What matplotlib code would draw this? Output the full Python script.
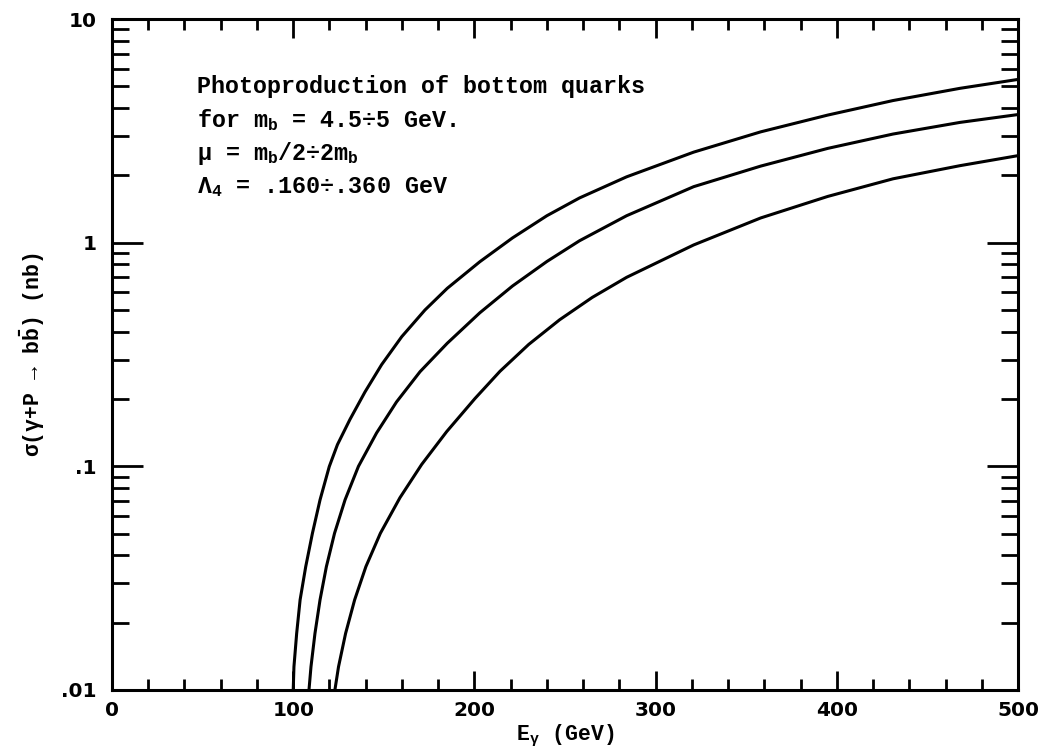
import matplotlib.pyplot as plt
from matplotlib.ticker import FixedLocator, NullFormatter

# curves: photon energy (GeV) vs cross section (nb)
upper_E = [100, 100.4, 101.9, 103.8, 106.9, 110.6, 114.8, 119.9, 124.4, 131.3, 139.6,
           148.8, 159.9, 172.7, 185, 203, 221, 240, 258, 284, 321, 358, 395, 431,
           468, 500]
upper_sigma = [0.01, 0.0127, 0.0179, 0.0253, 0.0356, 0.0502, 0.0708, 0.0998, 0.125,
               0.162, 0.215, 0.285, 0.38, 0.50, 0.625, 0.822, 1.05, 1.32, 1.585, 1.97,
               2.54, 3.13, 3.72, 4.32, 4.90, 5.37]

middle_E = [108.7, 109.8, 112.0, 114.8, 118.3, 122.8, 128.6, 136, 146, 157, 170, 185,
            203, 221, 240, 258, 284, 321, 358, 395, 431, 468, 500]
middle_sigma = [0.01, 0.0127, 0.0179, 0.0253, 0.0356, 0.0502, 0.0708, 0.1, 0.141,
                0.194, 0.265, 0.355, 0.486, 0.640, 0.824, 1.02, 1.32, 1.78, 2.20,
                2.64, 3.06, 3.45, 3.74]

lower_E = [123, 125, 128.9, 133.9, 140.1, 148.1, 158.9, 170.9, 184.7, 200.3, 214.1,
           230, 247, 265, 284, 321, 358, 395, 431, 468, 500]
lower_sigma = [0.01, 0.0127, 0.0179, 0.0253, 0.0356, 0.0502, 0.0724, 0.102, 0.143,
               0.201, 0.266, 0.351, 0.452, 0.569, 0.70, 0.977, 1.29, 1.61, 1.93,
               2.21, 2.45]

notes = ["Photoproduction of bottom quarks",
         "for $m_b$ = 4.5\u00f75 GeV.",
         "\u03bc = $m_b$/2\u00f72$m_b$",
         "\u039b$_4$ = .160\u00f7.360 GeV"]

yticks = [0.01, 0.1, 1, 10]
ytick_labels = [".01", ".1", "1", "10"]
xticks = [0, 100, 200, 300, 400, 500]

plt.rcParams['mathtext.fontset'] = 'custom'
plt.rcParams['mathtext.rm'] = 'Liberation Mono:bold'
plt.rcParams['mathtext.it'] = 'Liberation Mono:bold'
plt.rcParams['mathtext.bf'] = 'Liberation Mono:bold'

fig = plt.figure(figsize=(10.42, 7.49), dpi=100)
ax = fig.add_axes([0.1075, 0.0788, 0.8695, 0.8958])

for E, s in [(upper_E, upper_sigma), (middle_E, middle_sigma), (lower_E, lower_sigma)]:
    ax.plot(E, s, color='black', lw=2.2, solid_joinstyle='round')

ax.set_yscale('log')
ax.set_xlim(0, 500)
ax.set_ylim(0.01, 10)

ax.set_xticks(xticks)
ax.set_xticklabels([str(t) for t in xticks], fontfamily='DejaVu Sans',
                   fontweight='bold', fontsize=14.5)
ax.xaxis.set_minor_locator(FixedLocator(range(0, 501, 20)))
ax.set_yticks(yticks)
ax.set_yticklabels(ytick_labels, fontfamily='DejaVu Sans', fontweight='bold',
                   fontsize=14.5)
minor_y = [m * 10.0 ** d for d in (-2, -1, 0) for m in range(2, 10)]
ax.yaxis.set_minor_locator(FixedLocator(minor_y))
ax.yaxis.set_minor_formatter(NullFormatter())

ax.tick_params(which='both', direction='in', top=True, right=True, width=2,
               color='black')
ax.tick_params(axis='x', which='major', length=14, pad=8)
ax.tick_params(axis='x', which='minor', length=8)
ax.tick_params(axis='y', which='major', length=22, pad=11)
ax.tick_params(axis='y', which='minor', length=12)
for sp in ax.spines.values():
    sp.set_linewidth(2.2)

ax.set_xlabel("E$_\\gamma$ (GeV)", fontfamily='Liberation Mono', fontweight='bold',
              fontsize=15.5, labelpad=2)
ax.set_ylabel("\u03c3(\u03b3+P \u2192 b$\\bar{b}$) (nb)", fontfamily='Liberation Mono',
              fontweight='bold', fontsize=15.5)
ax.yaxis.set_label_coords(-0.072, 0.5)

for i, line in enumerate(notes):
    ax.text(0.094, 0.899 - i * 0.05, line, transform=ax.transAxes,
            fontfamily='Liberation Mono', fontweight='bold', fontsize=16.8,
            va='center', ha='left')

fig.savefig('out.png', dpi=100)
